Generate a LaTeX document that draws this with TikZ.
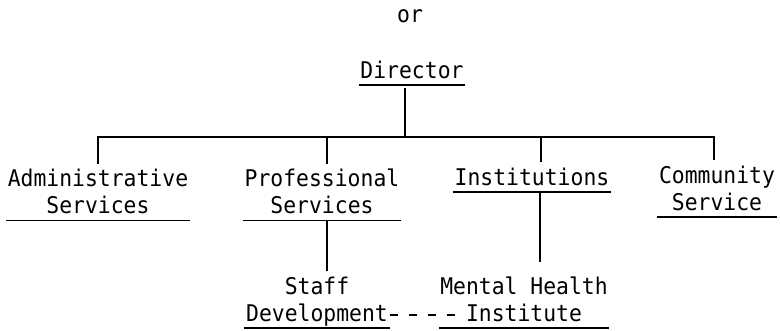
\documentclass[tikz,border=0pt]{standalone}
\usepackage{fontspec}
\usepackage{tikz}
\usetikzlibrary{positioning}
\newfontfamily\typed[FakeStretch=0.93]{DejaVu Sans Mono}

\begin{document}
\begin{tikzpicture}[x=1pt,y=-1pt,line width=1.5pt,node distance=107.5pt]
  \tikzstyle{every node}=[font=\typed\fontsize{23pt}{27pt}\selectfont]
  \tikzstyle{office}=[align=center,inner xsep=1pt,inner ysep=6pt,
                      text height=16pt,text depth=0pt]
  \tikzstyle{twoline}=[office,text height=43pt]

  \useasboundingbox (0,0) rectangle (780,330);

  \node[office]  (or)  at (410,14)      {or};
  \node[office]  (0)   at (412,70)      {Director};
  \node[twoline] (1)   at (98,192)      {Administrative\\Services};
  \node[twoline] (2)   at (322,192)     {Professional\\Services};
  \node[office]  (3)   at (532,177)     {Institutions};
  \node[twoline] (4)   at (717,188.5)   {Community\\Service};
  \node[twoline] (5)   [below of=2,xshift=-5pt]         {Staff\\Development};
  \node[twoline] (6)   [node distance=207pt,right of=5] {Mental Health\\Institute};

  % underlines
  \draw (0.south west) -- (0.south east);
  \draw (1.south west) -- (1.south east);
  \draw (2.south west) -- (2.south east);
  \draw (3.south west) -- (3.south east);
  \draw (4.south west) -- (4.south east);
  \draw (5.south west) -- (5.south east);
  \draw (6.south west) -- (6.south east);

  % tree
  \coordinate (bus) at (405,137);
  \draw ([xshift=-7pt,yshift=-3pt]0.south) -- (bus);
  \draw (1.north) |- (bus) -| ([xshift=-3pt]4.north);
  \draw ([xshift=5pt]2.north) -- ([xshift=5pt]2.north |- bus);
  \draw ([xshift=9pt]3.north) -- ([xshift=9pt]3.north |- bus);

  \draw ([xshift=5pt]2.south) -- ([xshift=5pt]2.south |- 5.north);
  \draw ([xshift=8pt]3.south) -- ([xshift=16pt,yshift=9pt]6.north);
  \draw[dash pattern=on 8pt off 11pt] ([yshift=13pt]5.south east)
        -- ([xshift=21pt,yshift=13pt]6.south west);

\end{tikzpicture}
\end{document}
